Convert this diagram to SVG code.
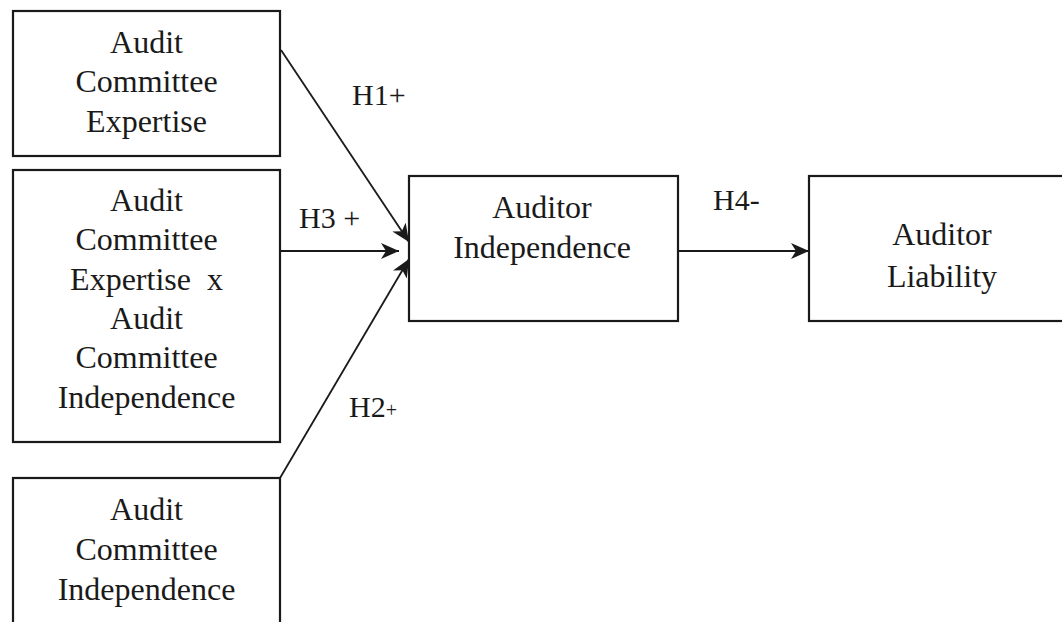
<svg xmlns="http://www.w3.org/2000/svg" width="1062" height="622" viewBox="0 0 1062 622">
<defs>
<style>
.box{fill:#fff;stroke:#1a1a1a;stroke-width:2.2}
.lbl{font-family:"Liberation Serif","Times New Roman",serif;font-size:32px;fill:#1a1a1a;text-anchor:middle}
.hl{font-family:"Liberation Serif","Times New Roman",serif;font-size:30px;fill:#1a1a1a}
.conn{stroke:#1a1a1a;stroke-width:1.8;fill:none}
</style>
<marker id="ah" markerUnits="userSpaceOnUse" markerWidth="20" markerHeight="16" refX="18" refY="8" orient="auto">
<path d="M0,0 L18,8 L0,16 L5,8 Z" fill="#1a1a1a"/>
</marker>
</defs>
<rect width="1062" height="622" fill="#fff"/>
<g id="connectors">
<line class="conn" x1="281" y1="50" x2="409" y2="242" marker-end="url(#ah)"/>
<line class="conn" x1="280" y1="251" x2="399" y2="251" marker-end="url(#ah)"/>
<line class="conn" x1="280" y1="478" x2="409" y2="259" marker-end="url(#ah)"/>
<line class="conn" x1="678" y1="251" x2="809" y2="251" marker-end="url(#ah)"/>
<text class="hl" x="352" y="105">H1+</text>
<text class="hl" x="299" y="228">H3 +</text>
<text class="hl" x="349" y="417">H2<tspan font-size="20">+</tspan></text>
<text class="hl" x="713" y="210">H4-</text>
</g>
<g id="n1">
<rect class="box" x="13" y="11" width="267" height="145"/>
<text class="lbl" x="146.5" y="53">Audit</text>
<text class="lbl" x="146.5" y="92">Committee</text>
<text class="lbl" x="146.5" y="132">Expertise</text>
</g>
<g id="n2">
<rect class="box" x="13" y="170" width="267" height="272"/>
<text class="lbl" x="146.5" y="211">Audit</text>
<text class="lbl" x="146.5" y="250">Committee</text>
<text class="lbl" x="146.5" y="290" xml:space="preserve">Expertise  x</text>
<text class="lbl" x="146.5" y="329">Audit</text>
<text class="lbl" x="146.5" y="368">Committee</text>
<text class="lbl" x="146.5" y="408">Independence</text>
</g>
<g id="n3">
<rect class="box" x="13" y="478" width="267" height="160"/>
<text class="lbl" x="146.5" y="520">Audit</text>
<text class="lbl" x="146.5" y="560">Committee</text>
<text class="lbl" x="146.5" y="600">Independence</text>
</g>
<g id="n4">
<rect class="box" x="409" y="176" width="269" height="145"/>
<text class="lbl" x="542" y="218">Auditor</text>
<text class="lbl" x="542" y="258">Independence</text>
</g>
<g id="n5">
<rect class="box" x="809" y="176" width="260" height="145"/>
<text class="lbl" x="942" y="245">Auditor</text>
<text class="lbl" x="942" y="287">Liability</text>
</g>
</svg>
